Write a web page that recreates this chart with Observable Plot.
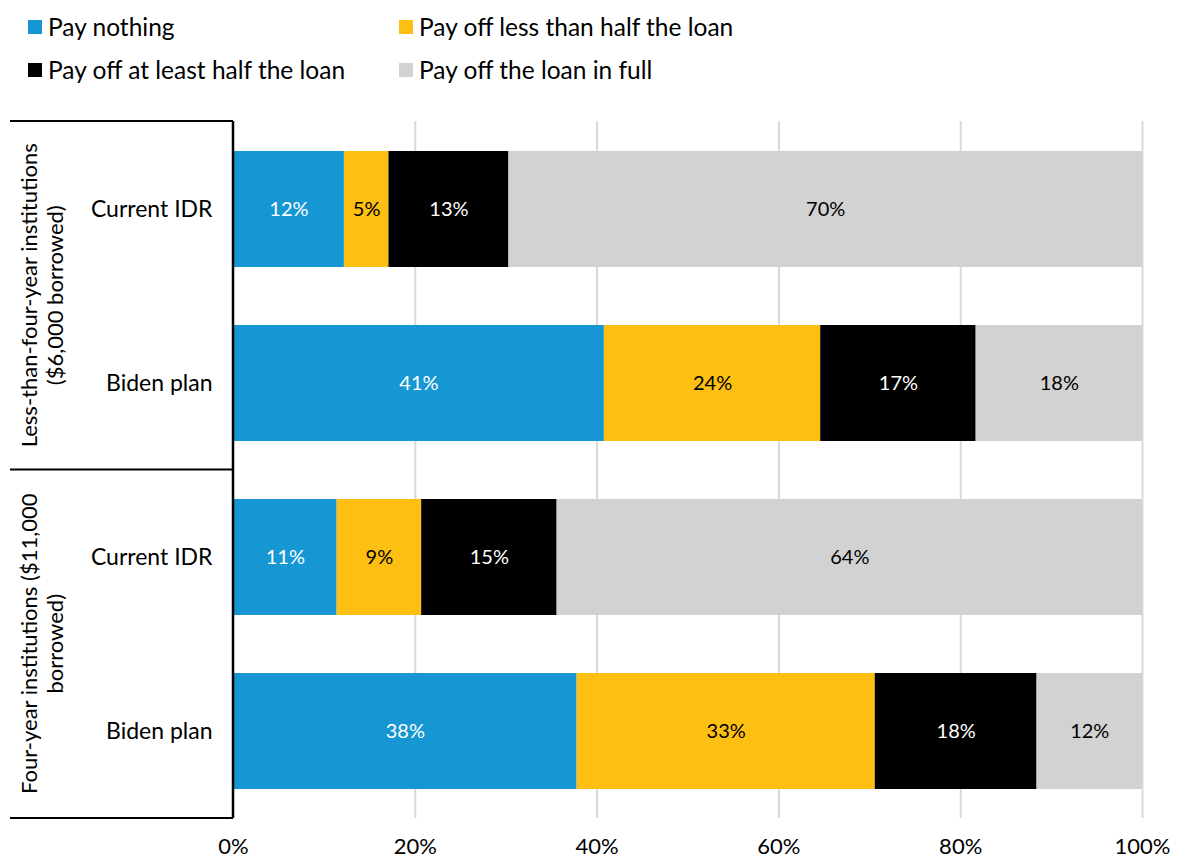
<!DOCTYPE html>
<html><head><meta charset="utf-8">
<script src="https://cdn.jsdelivr.net/npm/d3@7"></script>
<script src="https://cdn.jsdelivr.net/npm/@observablehq/plot@0.6"></script>
<style>
body{margin:0;background:#fff;font-family:Lato,sans-serif;}
#legend{position:relative;height:100px;width:1177px;}
.item{position:absolute;display:flex;align-items:center;font-size:24.5px;line-height:30px;color:#000;white-space:nowrap;}
.sw{width:14px;height:14px;margin-right:6px;}
#chart svg{display:block;}
</style></head><body>
<div id="legend"></div>
<div id="chart"></div>
<script>
// ---- data ----
const groups = ["Less-than-four-year institutions\n($6,000 borrowed)", "Four-year institutions ($11,000\nborrowed)"];
const plans = ["Current IDR", "Biden plan"];
const outcomes = ["Pay nothing", "Pay off less than half the loan", "Pay off at least half the loan", "Pay off the loan in full"];
const colors = ["#1696d2", "#fdbf11", "#000000", "#d2d2d2"];
const labelColors = ["#ffffff", "#000000", "#ffffff", "#000000"];
// shares (%) in outcome order
const lessCurrent = [12.2, 4.9, 13.2, 69.7];
const lessBiden = [40.8, 23.8, 17.1, 18.3];
const fourCurrent = [11.4, 9.3, 14.9, 64.4];
const fourBiden = [37.8, 32.8, 17.8, 11.6];
const xTicks = [0, 20, 40, 60, 80, 100];

// ---- table ----
const series = [[lessCurrent, lessBiden], [fourCurrent, fourBiden]];
const rowKeys = [];
const data = [];
groups.forEach((g, gi) => plans.forEach((p, pi) => {
  const key = gi + "|" + p;
  rowKeys.push(key);
  series[gi][pi].forEach((v, oi) => data.push({row: key, group: gi, plan: p, outcome: outcomes[oi], oi, value: v}));
}));

// ---- legend ----
const legend = document.getElementById("legend");
outcomes.forEach((o, i) => {
  const div = document.createElement("div");
  div.className = "item";
  div.style.left = (i % 2 ? 399 : 28) + "px";
  div.style.top = (i < 2 ? 12 : 55) + "px";
  const sw = document.createElement("span");
  sw.className = "sw";
  sw.style.background = colors[i];
  div.appendChild(sw);
  div.appendChild(document.createTextNode(o));
  legend.appendChild(div);
});

// ---- bracket + group labels ----
function bracket(index, scales, values, dims) {
  const g = d3.create("svg:g");
  const x0 = scales.x(0);
  const left = 10;
  const top = dims.marginTop, bottom = dims.height - dims.marginBottom;
  const bounds = groups.map((_, i) => top + (bottom - top) * i / groups.length).concat([bottom]);
  bounds.forEach(b => g.append("line").attr("x1", left).attr("x2", x0).attr("y1", b).attr("y2", b)
    .attr("stroke", "#000").attr("stroke-width", 2));
  g.append("line").attr("x1", x0).attr("x2", x0).attr("y1", top).attr("y2", bottom)
    .attr("stroke", "#000").attr("stroke-width", 2.5);
  groups.forEach((name, i) => {
    const cy = (bounds[i] + bounds[i + 1]) / 2;
    const cx = 41.5;
    const t = g.append("text").attr("transform", `translate(${cx},${cy}) rotate(-90)`)
      .attr("text-anchor", "middle").attr("font-size", 22).attr("fill", "#000");
    const lines = name.split("\n");
    lines.forEach((l, j) => t.append("tspan").attr("x", 0).attr("y", (j - (lines.length - 1) / 2) * 25.5)
      .attr("dominant-baseline", "central").text(l));
  });
  return g.node();
}

const fmt = d => Math.round(d.value) + "%";
const chart = Plot.plot({
  width: 1177, height: 759,
  marginTop: 21, marginBottom: 41, marginLeft: 233, marginRight: 35,
  style: {fontFamily: "Lato, sans-serif", fontSize: "20px", color: "#000", background: "#fff"},
  x: {domain: [0, 100]},
  y: {domain: rowKeys, paddingInner: 1 / 3, paddingOuter: 1 / 6},
  color: {domain: outcomes, range: colors},
  marks: [
    Plot.gridX({ticks: xTicks.filter(d => d > 0), stroke: "#d9d9d9", strokeOpacity: 1, strokeWidth: 2}),
    Plot.barX(data, Plot.stackX({x: "value", y: "row", fill: "outcome", order: null})),
    Plot.text(data, Plot.stackX({x: "value", y: "row", text: d => labelColors[d.oi] === "#ffffff" ? fmt(d) : "", fill: "#ffffff", fontSize: 20})),
    Plot.text(data, Plot.stackX({x: "value", y: "row", text: d => labelColors[d.oi] === "#000000" ? fmt(d) : "", fill: "#000000", fontSize: 20})),
    Plot.axisX({ticks: xTicks, tickFormat: d => d + "%", tickSize: 0, tickPadding: 20, label: null, fontSize: 22}),
    Plot.axisY({tickFormat: d => d.split("|")[1], tickSize: 0, tickPadding: 21, label: null, fontSize: 23}),
    bracket
  ]
});
document.getElementById("chart").appendChild(chart);
</script>
</body></html>
